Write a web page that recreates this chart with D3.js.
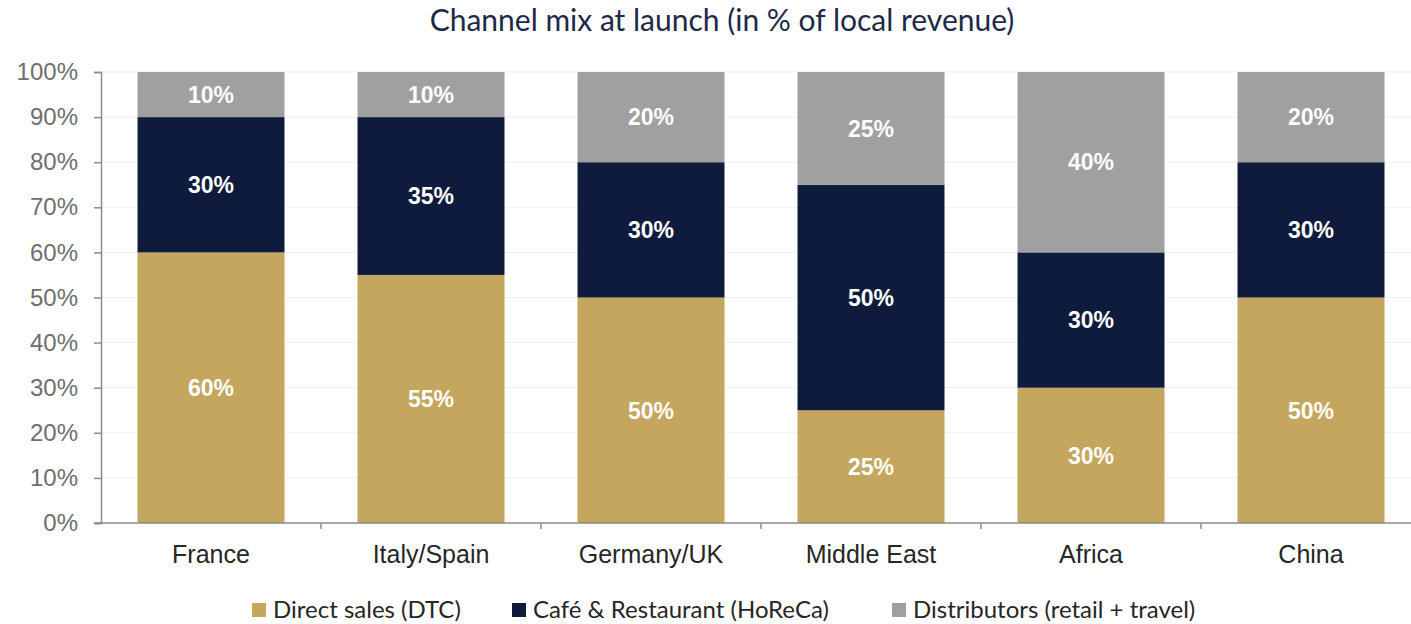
<!DOCTYPE html>
<html>
<head>
<meta charset="utf-8">
<script src="https://cdn.jsdelivr.net/npm/d3@7"></script>
<style>
  html, body { margin: 0; padding: 0; background: #fff; }
  svg { display: block; }
</style>
</head>
<body>
<svg id="chart" width="1411" height="624"></svg>
<script>
// Channel mix by market (share of local revenue, %)
const regions = ["France", "Italy/Spain", "Germany/UK", "Middle East", "Africa", "China"];
const directSales = [60, 55, 50, 25, 30, 50];
const horeca = [30, 35, 30, 50, 30, 30];
const distributors = [10, 10, 20, 25, 40, 20];
const seriesNames = ["Direct sales (DTC)", "Café & Restaurant (HoReCa)", "Distributors (retail + travel)"];
const seriesColors = ["#C4A65E", "#0E1B3D", "#A0A0A0"];
const yTicks = [0, 10, 20, 30, 40, 50, 60, 70, 80, 90, 100];

const svg = d3.select("#chart");
const margin = { left: 101, right: -10, top: 72, bottom: 101 };
const width = 1411, height = 624;

const x = d3.scaleBand()
  .domain(regions)
  .range([margin.left, width - margin.right])
  .paddingInner(0.332)
  .paddingOuter(0.166);

const y = d3.scaleLinear()
  .domain([0, 100])
  .range([height - margin.bottom, margin.top]);

// light horizontal gridlines
svg.append("g")
  .selectAll("line")
  .data(yTicks.slice(1))
  .join("line")
  .attr("x1", margin.left)
  .attr("x2", width)
  .attr("y1", d => y(d))
  .attr("y2", d => y(d))
  .attr("stroke", "#efefef")
  .attr("stroke-width", 1);

// stacked data
const rows = regions.map((r, i) => ({
  region: r,
  s0: directSales[i],
  s1: horeca[i],
  s2: distributors[i]
}));
const stack = d3.stack().keys(["s0", "s1", "s2"]);
const layers = stack(rows);

const layerG = svg.append("g")
  .selectAll("g")
  .data(layers)
  .join("g")
  .attr("fill", (d, i) => seriesColors[i]);

layerG.selectAll("rect")
  .data(d => d)
  .join("rect")
  .attr("x", d => x(d.data.region))
  .attr("width", x.bandwidth())
  .attr("y", d => y(d[1]))
  .attr("height", d => y(d[0]) - y(d[1]));

// value labels
layerG.selectAll("text")
  .data(d => d.map(v => ({ v, key: d.key })))
  .join("text")
  .attr("x", d => x(d.v.data.region) + x.bandwidth() / 2)
  .attr("y", d => y((d.v[0] + d.v[1]) / 2))
  .attr("dy", "0.36em")
  .attr("text-anchor", "middle")
  .attr("fill", "#ffffff")
  .attr("font-family", "Liberation Sans, Arial, sans-serif")
  .attr("font-weight", "bold")
  .attr("font-size", 23)
  .text(d => (d.v[1] - d.v[0]) + "%");

// y axis
const yAxis = d3.axisLeft(y)
  .tickValues(yTicks)
  .tickFormat(d => d + "%")
  .tickSize(7)
  .tickPadding(16);
const yG = svg.append("g")
  .attr("transform", `translate(${margin.left},0)`)
  .call(yAxis);
yG.select(".domain").attr("stroke", "#8c8c8c").attr("stroke-width", 1.5);
yG.selectAll(".tick line").attr("stroke", "#8c8c8c").attr("stroke-width", 1.5);
yG.selectAll(".tick text")
  .attr("fill", "#6e6e6e")
  .attr("font-family", "Liberation Sans, Arial, sans-serif")
  .attr("font-size", 24);

// x axis baseline with ticks at band boundaries
const x0 = y(0);
svg.append("line")
  .attr("x1", margin.left - 7)
  .attr("x2", width)
  .attr("y1", x0)
  .attr("y2", x0)
  .attr("stroke", "#8c8c8c")
  .attr("stroke-width", 1.5);
const step = x.step();
const boundaries = regions.map((r, i) => x(r) - x.paddingInner() * step / 2).slice(1);
svg.append("g")
  .selectAll("line")
  .data(boundaries)
  .join("line")
  .attr("x1", d => d)
  .attr("x2", d => d)
  .attr("y1", x0)
  .attr("y2", x0 + 6)
  .attr("stroke", "#8c8c8c")
  .attr("stroke-width", 1.5);

svg.append("g")
  .selectAll("text")
  .data(regions)
  .join("text")
  .attr("x", d => x(d) + x.bandwidth() / 2)
  .attr("y", 563)
  .attr("text-anchor", "middle")
  .attr("fill", "#262626")
  .attr("font-family", "Liberation Sans, Arial, sans-serif")
  .attr("font-size", 25)
  .text(d => d);

// title
svg.append("text")
  .attr("x", 722)
  .attr("y", 31)
  .attr("text-anchor", "middle")
  .attr("fill", "#1c2a48")
  .attr("font-family", "Lato, Open Sans, sans-serif")
  .attr("font-size", 30)
  .text("Channel mix at launch (in % of local revenue)");

// legend
const legendX = [252, 512, 892];
const legend = svg.append("g")
  .selectAll("g")
  .data(seriesNames)
  .join("g")
  .attr("transform", (d, i) => `translate(${legendX[i]},603)`);
legend.append("rect")
  .attr("width", 14)
  .attr("height", 14)
  .attr("fill", (d, i) => seriesColors[i]);
legend.append("text")
  .attr("x", 21)
  .attr("y", 15)
  .attr("fill", "#262626")
  .attr("font-family", "Lato, Open Sans, sans-serif")
  .attr("font-size", 24)
  .text(d => d);
</script>
</body>
</html>
